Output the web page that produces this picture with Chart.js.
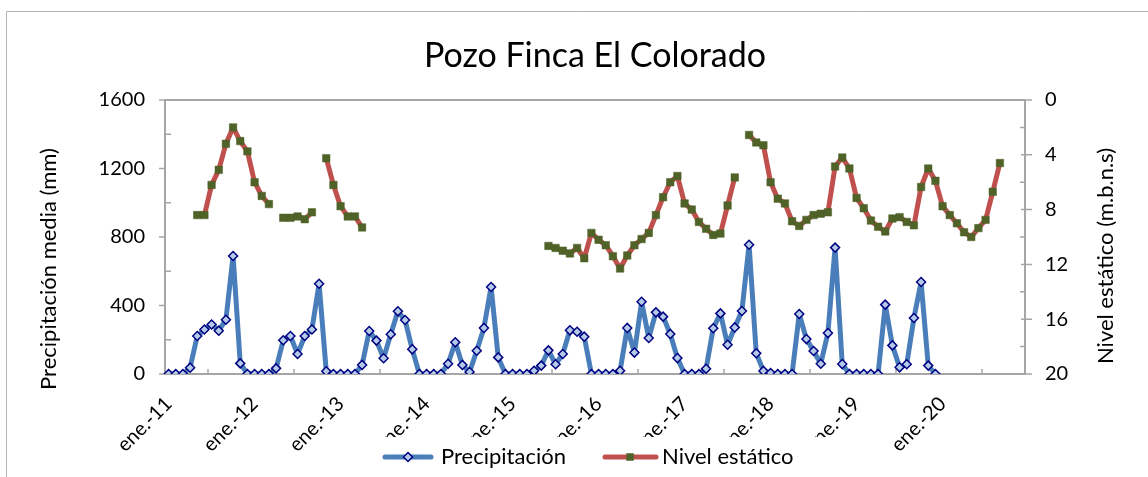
<!DOCTYPE html>
<html><head><meta charset="utf-8">
<script src="https://cdn.jsdelivr.net/npm/chart.js@4.4.1/dist/chart.umd.min.js"></script>
<style>html,body{margin:0;padding:0;background:#fff}#wrap{width:1148px;height:477px}</style>
</head><body><div id="wrap"><canvas id="c" width="1148" height="477"></canvas></div>
<script>
const monthNames = ['ene.','feb.','mar.','abr.','may.','jun.','jul.','ago.','sep.','oct.','nov.','dic.'];
const years = ['11','12','13','14','15','16','17','18','19','20'];
const categories = years.flatMap(y => monthNames.map(m => m + '-' + y));

const precipitacion = [
  0,0,0,37,222,260,289,253,317,689,62,0,
  0,0,0,33,197,222,117,222,260,527,16,0,
  0,0,0,53,251,195,92,232,366,315,144,0,
  0,0,0,60,185,53,12,136,269,508,97,0,
  0,0,0,19,49,138,57,117,255,247,218,0,
  0,0,0,19,269,125,422,210,360,335,234,93,
  0,0,0,31,267,354,171,272,368,755,121,18,
  6,0,0,0,350,204,134,60,239,738,58,0,
  0,0,0,0,405,167,39,57,327,537,49,0,
  null,null,null,null,null,null,null,null,null,null,null,null
];

const nivelEstatico = [
  null,null,null,null,8.4,8.4,6.2,5.1,3.2,2.0,3.0,3.75,
  6.0,7.0,7.6,null,8.6,8.6,8.5,8.7,8.2,null,4.25,6.2,
  7.75,8.5,8.5,9.3,null,null,null,null,null,null,null,null,
  null,null,null,null,null,null,null,null,null,null,null,null,
  null,null,null,null,null,10.65,10.8,11.0,11.2,10.8,11.55,9.7,
  10.2,10.6,11.4,12.3,11.35,10.6,10.15,9.7,8.4,7.1,6.0,5.55,
  7.55,8.0,8.9,9.4,9.85,9.75,7.7,5.65,null,2.55,3.1,3.3,
  6.0,7.2,7.55,8.85,9.2,8.75,8.4,8.3,8.2,4.85,4.2,5.0,
  7.15,7.9,8.8,9.25,9.6,8.65,8.55,8.9,9.15,6.35,5.0,5.9,
  7.75,8.4,9.0,9.65,10.0,9.35,8.75,6.7,4.6,null,null,null
];

const seriesNames = ['Precipitación', 'Nivel estático'];
const chartTitle = 'Pozo Finca El Colorado';
const leftAxisTitle = 'Precipitación media (mm)';
const rightAxisTitle = 'Nivel estático (m.b.n.s)';

const FONT = 'Lato, "Liberation Sans", sans-serif';
const BLUE = '#4A7EBB', RED = '#C0504D', GREEN = '#4F6228', NAVY = '#000080', DIAFILL = '#B4CBE8';
const AXIS = '#a6a6a6';

function drawDiamond(ctx, cx, cy, r) {
  ctx.beginPath();
  ctx.moveTo(cx, cy - r); ctx.lineTo(cx + r, cy); ctx.lineTo(cx, cy + r); ctx.lineTo(cx - r, cy); ctx.closePath();
  ctx.fillStyle = DIAFILL; ctx.fill();
  ctx.strokeStyle = NAVY; ctx.lineWidth = 1.5; ctx.stroke();
}

const decor = {
  id: 'decor',
  beforeDatasetsDraw(chart) {
    const {ctx, chartArea: a, scales: {x, y, y1}} = chart;
    ctx.save();
    ctx.strokeStyle = '#b4b4b4'; ctx.lineWidth = 1;
    ctx.beginPath(); ctx.moveTo(6.5, 477); ctx.lineTo(6.5, 11.5); ctx.lineTo(1148, 11.5); ctx.stroke();
    ctx.strokeStyle = AXIS; ctx.lineWidth = 2;
    ctx.strokeRect(a.left, a.top, a.right - a.left, a.bottom - a.top);
    ctx.lineWidth = 1.5;
    ctx.beginPath();
    for (let v = 0; v <= 1600; v += 200) {
      const py = y.getPixelForValue(v);
      if (v % 400 === 0) { ctx.moveTo(a.left - 6, py); ctx.lineTo(a.left, py); }
      else { ctx.moveTo(a.left, py); ctx.lineTo(a.left + 6, py); }
    }
    for (let v = 0; v <= 20; v += 2) {
      const py = y1.getPixelForValue(v);
      if (v % 4 === 0) { ctx.moveTo(a.right - 4, py); ctx.lineTo(a.right + 7, py); }
      else { ctx.moveTo(a.right - 5, py); ctx.lineTo(a.right, py); }
    }
    for (let k = 6; k < categories.length; k += 12) {
      const px = (x.getPixelForValue(k - 1) + x.getPixelForValue(k)) / 2;
      ctx.moveTo(px, a.bottom); ctx.lineTo(px, a.bottom - 5);
    }
    ctx.stroke();
    ctx.restore();
  },
  afterDraw(chart) {
    const {ctx} = chart;
    ctx.save();
    ctx.fillStyle = '#000';
    ctx.font = '22px ' + FONT;
    ctx.textAlign = 'center'; ctx.textBaseline = 'middle';
    ctx.save(); ctx.translate(49, 269); ctx.rotate(-Math.PI / 2); ctx.fillText(leftAxisTitle, 0, 0); ctx.restore();
    ctx.save(); ctx.translate(1106, 256); ctx.rotate(-Math.PI / 2); ctx.fillText(rightAxisTitle, 0, 0); ctx.restore();
    ctx.fillStyle = '#fff';
    ctx.fillRect(370, 437, 460, 40);
    const ly = 457;
    ctx.lineCap = 'round';
    ctx.lineWidth = 5; ctx.strokeStyle = BLUE;
    ctx.beginPath(); ctx.moveTo(385, ly); ctx.lineTo(431, ly); ctx.stroke();
    drawDiamond(ctx, 408, ly, 4.5);
    ctx.lineWidth = 5; ctx.strokeStyle = RED;
    ctx.beginPath(); ctx.moveTo(605, ly); ctx.lineTo(656, ly); ctx.stroke();
    ctx.fillStyle = GREEN; ctx.fillRect(630 - 3.75, ly - 3.75, 7.5, 7.5);
    ctx.fillStyle = '#000';
    ctx.font = '22px ' + FONT;
    ctx.textAlign = 'left'; ctx.textBaseline = 'middle';
    ctx.fillText(seriesNames[0], 441, ly);
    ctx.fillText(seriesNames[1], 662, ly);
    ctx.restore();
  }
};

new Chart(document.getElementById('c'), {
  type: 'line',
  data: {
    labels: categories,
    datasets: [
      {
        label: seriesNames[0], data: precipitacion, yAxisID: 'y',
        borderColor: BLUE, borderWidth: 5, borderJoinStyle: 'round', borderCapStyle: 'round', tension: 0,
        pointStyle: 'rectRot', pointRadius: 4.5, pointHoverRadius: 4.5,
        pointBackgroundColor: DIAFILL, pointBorderColor: NAVY, pointBorderWidth: 1.5, order: 1
      },
      {
        label: seriesNames[1], data: nivelEstatico, yAxisID: 'y1',
        borderColor: RED, borderWidth: 5, borderJoinStyle: 'round', borderCapStyle: 'round', tension: 0,
        pointStyle: 'rect', pointRadius: 5.3, pointHoverRadius: 5.3,
        pointBackgroundColor: GREEN, pointBorderColor: GREEN, pointBorderWidth: 0.5, order: 2
      }
    ]
  },
  options: {
    responsive: false,
    animation: false,
    layout: { padding: 0 },
    plugins: {
      legend: { display: false },
      tooltip: { enabled: false },
      title: {
        display: true, text: chartTitle, color: '#000', fullSize: false,
        font: { family: FONT, size: 34, weight: 'normal' },
        padding: { top: 36, bottom: 23.2 }
      }
    },
    scales: {
      x: {
        type: 'category', offset: true,
        grid: { display: true, drawOnChartArea: false, drawTicks: false },
        border: { display: false },
        ticks: {
          autoSkip: false, minRotation: 45, maxRotation: 45, padding: 18,
          color: '#000', font: { family: FONT, size: 20 },
          callback: (v, i) => (i % 12 === 0 ? categories[i] : '')
        },
        afterFit: s => { s.height = 103; }
      },
      y: {
        position: 'left', min: 0, max: 1600,
        grid: { display: true, drawOnChartArea: false, drawTicks: false },
        border: { display: false },
        ticks: { stepSize: 400, padding: 20, color: '#000', font: { family: FONT, size: 20 }, callback: v => String(v) },
        afterFit: s => { s.width = 165; }
      },
      y1: {
        position: 'right', min: 0, max: 20, reverse: true,
        grid: { display: true, drawOnChartArea: false, drawTicks: false },
        border: { display: false },
        ticks: { stepSize: 4, padding: 20, color: '#000', font: { family: FONT, size: 20 }, callback: v => String(v) },
        afterFit: s => { s.width = 123; }
      }
    }
  },
  plugins: [decor]
});
</script>
</body></html>
